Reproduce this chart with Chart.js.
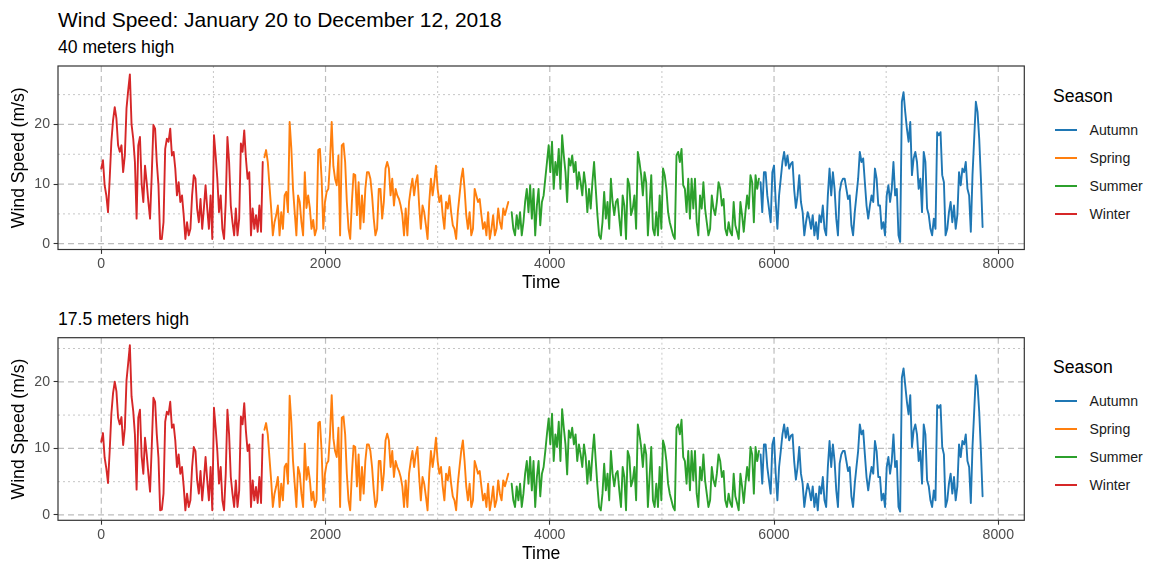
<!DOCTYPE html>
<html>
<head>
<meta charset="utf-8">
<title>Wind Speed 2018</title>
<script src="https://cdn.jsdelivr.net/npm/chart.js@4.4.1/dist/chart.umd.min.js"></script>
<style>
  html, body { margin: 0; padding: 0; background: #ffffff; overflow: hidden; }
  body { width: 1152px; height: 567px; position: relative;
         font-family: "Liberation Sans", Arial, Helvetica, sans-serif; }
  canvas { position: absolute; left: 0; }
  .txt { position: absolute; white-space: nowrap; line-height: 1; color: #000; }
  .key { position: absolute; height: 2px; width: 22px; }
</style>
</head>
<body>
<div class="txt" style="left:58px; top:9px; font-size:21px;">Wind Speed: January 20 to December 12, 2018</div>
<div class="txt" style="left:58px; top:39px; font-size:17.6px;">40 meters high</div>
<div class="txt" style="left:58px; top:310.7px; font-size:17.6px;">17.5 meters high</div>
<canvas id="top40" width="1040" height="300" style="top:0px;"></canvas>
<canvas id="low17" width="1040" height="277" style="top:290px;"></canvas>
<div id="legends"></div>
<script>
// Readings every STEP hours, counted from each season's first hour.
const STEP = 15;
const seasons = ['Autumn', 'Spring', 'Summer', 'Winter'];
const seasonColors = ['#1f77b4', '#ff7f0e', '#2ca02c', '#d62728'];
const seasonStart = [5880, 1455, 3660, 0];

// Wind speed at 40 m (m/s)
const winter40 = [12.6, 14.0, 9.8, 8.1, 5.3, 10.9, 17.1, 20.7, 22.9, 21.0,
  16.5, 15.4, 16.5, 12.0, 14.8, 22.7, 25.7, 28.4, 20.0, 17.6,
  13.7, 4.2, 16.5, 17.9, 10.0, 7.0, 13.1, 10.3, 7.0, 4.2,
  11.5, 19.9, 19.3, 13.7, 9.8, 0.8, 0.8, 3.6, 15.9, 17.6,
  17.1, 19.3, 14.8, 15.4, 12.6, 8.1, 10.3, 7.0, 8.1, 4.8,
  0.8, 3.6, 1.4, 2.5, 8.1, 11.5, 10.9, 5.9, 3.6, 7.5,
  2.5, 5.9, 9.8, 5.9, 2.5, 8.1, 0.8, 18.2, 14.8, 10.9,
  5.3, 8.1, 2.5, 0.8, 7.0, 17.9, 13.7, 6.4, 3.6, 1.4,
  5.9, 1.4, 4.2, 16.8, 15.4, 19.0, 14.3, 10.9, 12.0, 1.4,
  5.9, 2.5, 4.8, 2.0, 6.4, 2.0, 13.7];
const spring40 = [14.5, 15.7, 13.7, 9.8, 5.9, 1.4, 3.6, 4.8, 6.4, 1.4,
  5.3, 2.5, 8.1, 8.7, 5.3, 20.4, 16.0, 9.2, 5.3, 1.4,
  8.1, 7.0, 3.6, 1.4, 12.0, 6.0, 8.1, 6.0, 2.5, 4.0,
  1.4, 2.5, 15.7, 15.9, 10.9, 2.5, 7.0, 8.7, 9.2, 13.7,
  20.4, 13.0, 10.9, 9.8, 14.8, 1.4, 16.5, 16.8, 13.7, 7.0,
  2.5, 0.8, 7.0, 11.7, 11.5, 4.8, 10.3, 2.5, 8.1, 3.6,
  9.2, 12.0, 12.0, 10.9, 8.1, 4.2, 1.4, 2.5, 9.2, 9.2,
  4.2, 7.0, 12.6, 13.7, 12.6, 8.1, 10.9, 6.4, 9.2, 8.1,
  7.5, 6.4, 4.8, 1.4, 5.9, 1.4, 7.0, 9.2, 10.9, 8.1,
  10.3, 11.5, 6.4, 2.5, 6.4, 5.3, 3.1, 0.8, 7.0, 10.9,
  8.1, 10.3, 13.1, 9.2, 7.0, 8.1, 4.8, 2.5, 7.0, 5.9,
  8.1, 5.3, 3.1, 2.5, 0.8, 5.3, 8.1, 10.9, 12.6, 9.2,
  4.8, 2.5, 5.3, 1.4, 2.5, 9.2, 8.1, 7.0, 7.5, 4.8,
  2.5, 3.6, 1.4, 5.3, 0.8, 2.5, 4.8, 1.4, 2.5, 5.9,
  3.6, 2.5, 5.9, 4.8, 5.9, 7.0];
const summer40 = [5.3, 2.5, 1.4, 4.8, 2.5, 5.3, 1.4, 3.6, 7.0, 9.2,
  5.3, 9.8, 4.2, 9.2, 1.4, 6.4, 9.2, 3.1, 7.0, 8.1,
  10.9, 13.7, 16.5, 12.0, 17.1, 9.2, 13.7, 11.5, 15.9, 9.2,
  18.2, 14.8, 12.0, 7.0, 14.3, 13.1, 14.8, 12.0, 13.7, 9.2,
  12.0, 10.3, 8.1, 12.0, 9.8, 5.3, 9.2, 5.9, 10.3, 13.7,
  9.2, 4.8, 1.4, 0.8, 3.6, 8.7, 4.2, 7.0, 2.5, 10.9,
  7.0, 4.8, 7.0, 7.5, 4.2, 1.4, 8.1, 6.4, 0.8, 10.9,
  9.8, 4.8, 5.9, 8.1, 2.5, 15.4, 13.7, 11.5, 8.1, 12.0,
  10.3, 1.4, 6.4, 11.5, 2.5, 1.4, 5.3, 1.4, 8.1, 2.5,
  12.6, 11.5, 9.2, 5.3, 3.6, 2.5, 1.4, 0.8, 14.8, 15.4,
  13.7, 15.9, 9.8, 9.2, 5.3, 10.9, 4.2, 10.9, 5.9, 10.9,
  3.6, 1.4, 8.1, 5.9, 10.3, 5.9, 3.6, 1.4, 2.5, 8.1,
  5.9, 4.8, 7.0, 10.3, 9.2, 6.4, 7.5, 2.5, 1.4, 3.6,
  2.0, 1.4, 7.0, 3.1, 2.0, 0.8, 7.0, 4.8, 2.0, 5.3,
  8.1, 5.9, 11.5, 10.3, 3.6, 11.5, 9.2, 10.9];
const autumn40 = [10.3, 5.3, 12.0, 12.0, 8.1, 5.9, 3.6, 12.0, 13.1, 7.0,
  2.5, 8.1, 10.9, 13.7, 15.4, 13.1, 14.8, 12.6, 13.4, 13.7,
  9.0, 6.0, 8.1, 11.5, 7.0, 5.3, 1.4, 3.6, 5.3, 4.2,
  2.5, 4.8, 1.4, 3.6, 0.8, 4.8, 3.6, 6.4, 2.5, 1.4,
  8.1, 12.6, 8.1, 12.0, 9.2, 4.2, 1.4, 8.7, 10.3, 10.9,
  10.9, 9.2, 7.5, 8.1, 3.1, 1.4, 5.3, 8.1, 10.9, 15.4,
  13.7, 14.3, 10.3, 6.4, 4.2, 6.4, 8.1, 7.0, 12.6, 10.9,
  6.4, 6.4, 2.5, 3.6, 1.4, 8.1, 9.8, 7.0, 9.2, 13.7,
  8.1, 9.2, 1.4, 0.3, 23.8, 25.4, 22.1, 19.3, 17.1, 20.4,
  11.5, 14.3, 15.4, 13.7, 9.2, 10.9, 5.3, 15.4, 13.7, 5.9,
  4.8, 2.5, 1.4, 4.2, 2.5, 18.7, 18.2, 18.7, 11.5, 10.3,
  1.4, 2.5, 5.3, 7.0, 3.6, 6.4, 2.5, 4.8, 12.0, 9.8,
  12.6, 12.0, 13.7, 9.2, 8.1, 2.0, 11.5, 17.6, 23.8, 22.1,
  17.6, 10.9, 2.8];

// Wind speed at 17.5 m (m/s)
const winter17 = [11.0, 12.3, 8.6, 7.0, 4.8, 9.6, 15.2, 18.3, 20.0, 18.6,
  14.6, 13.6, 14.7, 10.5, 13.0, 20.2, 22.8, 25.5, 17.8, 15.6,
  12.1, 3.8, 14.6, 15.8, 8.8, 6.2, 11.6, 9.1, 6.2, 3.5,
  10.2, 17.6, 17.0, 12.1, 8.6, 0.7, 0.8, 3.2, 14.0, 15.5,
  15.1, 17.0, 13.1, 13.6, 11.2, 7.2, 9.1, 6.2, 7.2, 4.3,
  0.7, 3.2, 1.2, 2.2, 7.2, 10.2, 9.6, 5.2, 3.2, 6.6,
  2.2, 5.2, 8.7, 5.2, 2.2, 7.2, 0.7, 16.1, 13.1, 9.6,
  4.7, 7.2, 2.2, 0.7, 6.2, 15.8, 12.1, 5.7, 3.2, 1.2,
  5.2, 1.2, 3.7, 14.8, 13.6, 16.8, 12.6, 9.6, 10.6, 1.2,
  5.2, 2.2, 4.2, 1.8, 5.7, 1.8, 12.1];
const spring17 = [12.8, 13.8, 12.1, 8.6, 5.2, 1.2, 3.2, 4.3, 5.7, 1.2,
  4.7, 2.2, 7.2, 7.7, 4.7, 17.9, 14.0, 8.1, 4.7, 1.2,
  7.2, 6.2, 3.2, 1.2, 10.7, 5.3, 7.2, 5.3, 2.2, 3.5,
  1.2, 2.2, 13.8, 14.0, 9.6, 2.2, 6.2, 7.7, 8.1, 12.1,
  18.0, 11.5, 9.6, 8.7, 13.1, 1.2, 14.6, 14.8, 12.1, 6.2,
  2.2, 0.7, 6.2, 10.4, 10.2, 4.3, 9.1, 2.2, 7.2, 3.2,
  8.1, 10.6, 10.6, 9.6, 7.2, 3.7, 1.2, 2.2, 8.1, 8.1,
  3.7, 6.2, 11.2, 12.2, 11.2, 7.2, 9.6, 5.7, 8.1, 7.2,
  6.6, 5.7, 4.3, 1.2, 5.2, 1.2, 6.2, 8.1, 9.6, 7.2,
  9.1, 10.2, 5.7, 2.2, 5.7, 4.7, 2.8, 0.7, 6.2, 9.6,
  7.2, 9.1, 11.6, 8.1, 6.2, 7.2, 4.3, 2.2, 6.2, 5.2,
  7.2, 4.7, 2.8, 2.2, 0.7, 4.7, 7.2, 9.6, 11.2, 8.1,
  4.3, 2.2, 4.7, 1.2, 2.2, 8.1, 7.2, 6.2, 6.6, 4.3,
  2.2, 3.2, 1.2, 4.7, 0.7, 2.2, 4.3, 1.2, 2.2, 5.2,
  3.2, 2.2, 5.2, 4.3, 5.2, 6.2];
const summer17 = [4.7, 2.2, 1.2, 4.3, 2.2, 4.7, 1.2, 3.2, 6.2, 8.1,
  4.7, 8.7, 3.7, 8.1, 1.2, 5.7, 8.1, 2.8, 6.2, 7.2,
  9.6, 12.2, 14.5, 10.6, 15.2, 8.1, 12.1, 10.2, 14.0, 8.1,
  15.9, 13.1, 10.6, 6.1, 12.7, 11.6, 13.1, 10.6, 12.1, 8.1,
  10.6, 9.1, 7.2, 10.6, 8.7, 4.7, 8.1, 5.2, 9.1, 12.1,
  8.1, 4.3, 1.2, 0.7, 3.2, 7.7, 3.7, 6.2, 2.2, 9.6,
  6.2, 4.3, 6.2, 6.6, 3.7, 1.2, 7.2, 5.7, 0.7, 9.6,
  8.7, 4.3, 5.2, 7.2, 2.2, 13.6, 12.1, 10.2, 7.2, 10.6,
  9.1, 1.2, 5.7, 10.2, 2.2, 1.2, 4.7, 1.2, 7.2, 2.2,
  11.2, 10.2, 8.1, 4.7, 3.2, 2.2, 1.2, 0.7, 13.1, 13.6,
  12.1, 14.3, 8.7, 8.1, 4.7, 9.6, 3.7, 9.6, 5.2, 9.6,
  3.2, 1.2, 7.2, 5.2, 9.1, 5.2, 3.2, 1.2, 2.2, 7.2,
  5.2, 4.3, 6.2, 9.1, 8.1, 5.7, 6.6, 2.2, 1.2, 3.2,
  1.8, 1.2, 6.2, 2.8, 1.8, 0.7, 6.2, 4.3, 1.8, 4.7,
  7.2, 5.2, 10.2, 9.1, 3.2, 10.2, 8.1, 9.6];
const autumn17 = [9.1, 4.7, 10.6, 10.6, 7.2, 5.2, 3.2, 10.6, 11.6, 6.2,
  2.2, 7.2, 9.6, 12.1, 13.6, 11.6, 13.1, 11.2, 11.9, 12.1,
  8.0, 5.3, 7.2, 10.2, 6.2, 4.7, 1.2, 3.2, 4.7, 3.7,
  2.2, 4.3, 1.2, 3.2, 0.7, 4.3, 3.2, 5.7, 2.2, 1.2,
  7.2, 11.1, 7.2, 10.6, 8.1, 3.7, 1.2, 7.7, 9.1, 9.6,
  9.6, 8.1, 6.6, 7.2, 2.8, 1.2, 4.7, 7.2, 9.6, 13.6,
  12.1, 12.7, 9.1, 5.7, 3.7, 5.7, 7.2, 6.2, 11.1, 9.6,
  5.7, 5.7, 2.2, 3.2, 1.2, 7.2, 8.7, 6.2, 8.1, 12.1,
  7.2, 8.1, 1.2, 0.5, 20.6, 22.0, 19.5, 17.0, 15.1, 18.0,
  10.2, 12.7, 13.6, 12.1, 8.1, 9.6, 4.7, 13.6, 12.1, 5.2,
  4.3, 2.2, 1.2, 3.7, 2.2, 16.5, 16.1, 16.5, 10.2, 9.1,
  1.2, 2.2, 4.7, 6.2, 3.2, 5.7, 2.2, 4.3, 10.6, 8.7,
  11.1, 10.6, 12.1, 8.1, 7.2, 1.8, 10.2, 15.5, 21.0, 19.5,
  15.5, 9.6, 2.8];

// Axis breaks
const xMajor = [0, 2000, 4000, 6000, 8000];
const xMinor = [1000, 3000, 5000, 7000];
const yMajor = [0, 10, 20];
const yMinor = [5, 15, 25];

Chart.defaults.font.family = '"Liberation Sans", Arial, Helvetica, sans-serif';

const X_MIN = -386, X_MAX = 8232;
const PLOT_LEFT = 58, PLOT_RIGHT = 1024.3;

function series(values, start) {
  return values.map((v, i) => ({ x: start + i * STEP, y: v }));
}

// Dashed major / dotted minor grid behind the lines, dark frame on top.
const panelFrame = {
  id: 'panelFrame',
  beforeDatasetsDraw(chart) {
    const { ctx, chartArea: a, scales: { x, y } } = chart;
    ctx.save();
    ctx.beginPath();
    ctx.rect(a.left, a.top, a.right - a.left, a.bottom - a.top);
    ctx.clip();
    const seg = (x1, y1, x2, y2) => { ctx.beginPath(); ctx.moveTo(x1, y1); ctx.lineTo(x2, y2); ctx.stroke(); };
    ctx.strokeStyle = '#c6c6c6';
    ctx.lineWidth = 1;
    ctx.setLineDash([2, 3]);
    xMinor.forEach(v => { const p = x.getPixelForValue(v); seg(p, a.top, p, a.bottom); });
    yMinor.forEach(v => { const p = y.getPixelForValue(v); seg(a.left, p, a.right, p); });
    ctx.strokeStyle = '#bdbdbd';
    ctx.lineWidth = 1.2;
    ctx.setLineDash([6, 4]);
    xMajor.forEach(v => { const p = x.getPixelForValue(v); seg(p, a.top, p, a.bottom); });
    yMajor.forEach(v => { const p = y.getPixelForValue(v); seg(a.left, p, a.right, p); });
    ctx.restore();
  },
  afterDatasetsDraw(chart) {
    const { ctx, chartArea: a } = chart;
    ctx.save();
    ctx.strokeStyle = '#333333';
    ctx.lineWidth = 1.2;
    ctx.setLineDash([]);
    ctx.strokeRect(a.left, a.top, a.right - a.left, a.bottom - a.top);
    ctx.restore();
  }
};

function makePanel(canvasId, valuesBySeason, yMin, yMax, geo) {
  const canvas = document.getElementById(canvasId);
  return new Chart(canvas, {
    type: 'line',
    data: {
      datasets: seasons.map((s, k) => ({
        label: s,
        data: series(valuesBySeason[k], seasonStart[k]),
        borderColor: seasonColors[k],
        backgroundColor: seasonColors[k],
        borderWidth: 1.9,
        pointRadius: 0,
        pointHoverRadius: 0,
        tension: 0,
        fill: false,
        borderJoinStyle: 'round',
        borderCapStyle: 'round'
      }))
    },
    options: {
      responsive: false,
      animation: false,
      devicePixelRatio: 1,
      events: [],
      layout: { padding: { left: 0, top: geo.top, right: canvas.width - PLOT_RIGHT, bottom: 0 } },
      plugins: { legend: { display: false }, tooltip: { enabled: false } },
      scales: {
        x: {
          type: 'linear',
          min: X_MIN,
          max: X_MAX,
          afterBuildTicks: s => { s.ticks = xMajor.map(v => ({ value: v })); },
          afterFit: s => { s.height = geo.xAxisHeight; },
          ticks: { callback: v => String(v), color: '#4d4d4d', font: { size: 14.1 },
                   padding: 1.9, maxRotation: 0, autoSkip: false },
          grid: { drawOnChartArea: false, drawTicks: true, tickLength: 4.4,
                  tickColor: '#333333', tickWidth: 1.1 },
          border: { display: false },
          title: { display: true, text: 'Time', color: '#000000', font: { size: 17.6 },
                   padding: { top: 0, bottom: geo.xTitlePad } }
        },
        y: {
          type: 'linear',
          min: yMin,
          max: yMax,
          afterBuildTicks: s => { s.ticks = yMajor.map(v => ({ value: v })); },
          afterFit: s => { s.width = PLOT_LEFT; },
          ticks: { callback: v => String(v), color: '#4d4d4d', font: { size: 14.1 },
                   padding: 3.6, autoSkip: false },
          grid: { drawOnChartArea: false, drawTicks: true, tickLength: 4.4,
                  tickColor: '#333333', tickWidth: 1.1 },
          border: { display: false },
          title: { display: true, text: 'Wind Speed (m/s)', color: '#000000', font: { size: 17.6 },
                   padding: { top: 8.4, bottom: 0 } }
        }
      }
    },
    plugins: [panelFrame]
  });
}

makePanel('top40', [autumn40, spring40, summer40, winter40], -0.97, 29.8,
  { top: 66, xAxisHeight: 50.5, xTitlePad: 6.4 });
makePanel('low17', [autumn17, spring17, summer17, winter17], -0.8, 26.62,
  { top: 47.7, xAxisHeight: 46.7, xTitlePad: 2.4 });

// Season legends beside each panel
function addLegend(centerTitle) {
  const box = document.getElementById('legends');
  const t = document.createElement('div');
  t.className = 'txt';
  t.textContent = 'Season';
  t.style.left = '1053px';
  t.style.top = (centerTitle - 8.6) + 'px';
  t.style.fontSize = '17.6px';
  box.appendChild(t);
  seasons.forEach((s, k) => {
    const cy = Math.round(centerTitle + 33 + 28 * k);
    const key = document.createElement('div');
    key.className = 'key';
    key.style.left = '1055px';
    key.style.top = (cy - 1) + 'px';
    key.style.backgroundColor = seasonColors[k];
    box.appendChild(key);
    const lab = document.createElement('div');
    lab.className = 'txt';
    lab.textContent = s;
    lab.style.left = '1089.5px';
    lab.style.top = (cy - 6.9) + 'px';
    lab.style.fontSize = '14.1px';
    lab.style.color = '#1a1a1a';
    box.appendChild(lab);
  });
}
addLegend(97);
addLegend(368);
</script>
</body>
</html>
